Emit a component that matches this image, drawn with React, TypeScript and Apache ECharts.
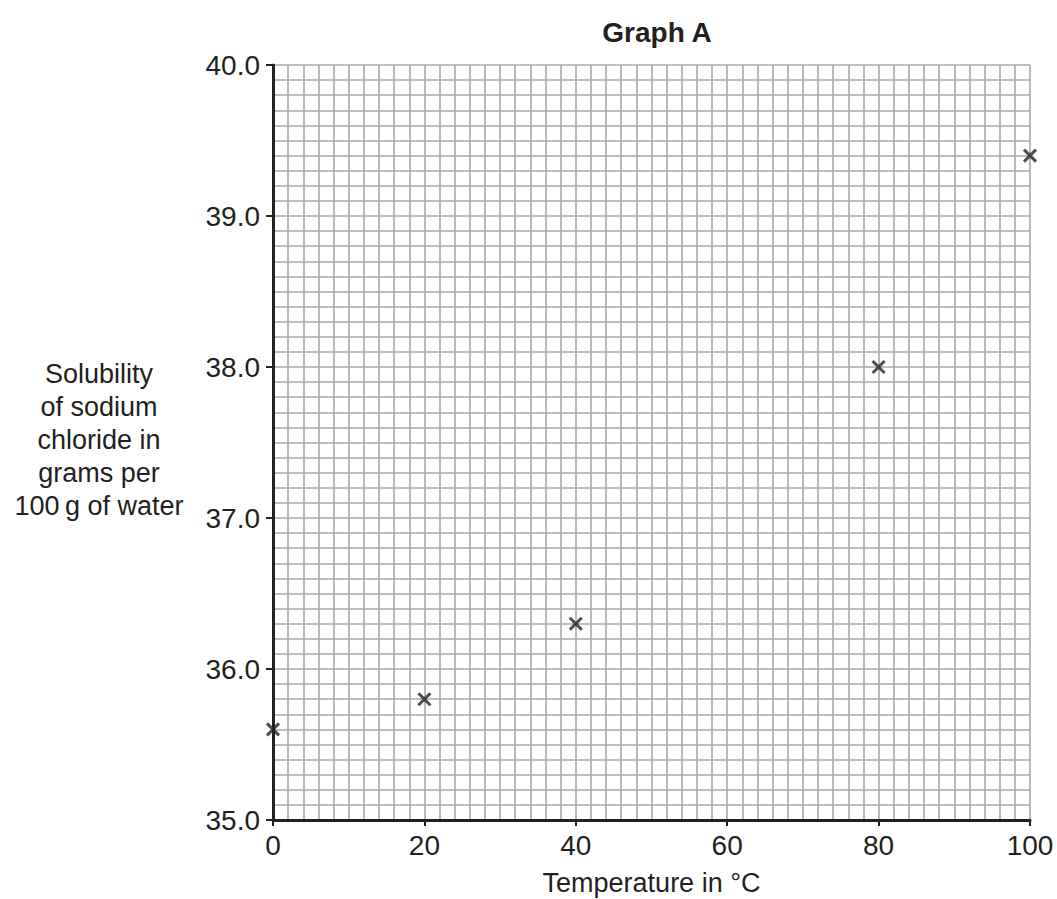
import React, { useEffect, useRef } from "react";
import * as echarts from "echarts";

const temperatures = [0, 20, 40, 80, 100];
const solubility = [35.6, 35.8, 36.3, 38.0, 39.4];
const yNameLines = ["Solubility", "of sodium", "chloride in", "grams per", "100\u2009g of water"];
const titleText = "Graph A";
const xName = "Temperature in °C";

const FONT = "'Liberation Sans', Arial, Helvetica, sans-serif";
const TXT = "#231f20";
const GRIDC = "#a9a9a9";

export default function App() {
  const ref = useRef<HTMLDivElement>(null);
  useEffect(() => {
    if (!ref.current) return;
    const chart = echarts.init(ref.current, null, { renderer: "svg" });
    const data = temperatures.map((t, i) => [t, solubility[i]]);
    chart.setOption({
      animation: false,
      backgroundColor: "#ffffff",
      textStyle: { fontFamily: FONT },
      title: {
        text: titleText,
        left: 652,
        textAlign: "center",
        top: 13,
        textStyle: { fontFamily: FONT, fontSize: 28, fontWeight: "bold", color: TXT },
      },
      grid: { left: 273, top: 65, right: 27, bottom: 79, outerBoundsMode: "none", containLabel: false },
      xAxis: {
        type: "value",
        min: 0,
        max: 100,
        interval: 20,
        name: xName,
        nameLocation: "middle",
        nameGap: 49,
        nameTextStyle: { fontFamily: FONT, fontSize: 27, color: TXT, lineHeight: 27 },
        axisLine: { show: true, onZero: false, lineStyle: { color: "#222", width: 3 } },
        axisTick: { show: true, length: 6, lineStyle: { color: "#222", width: 2 } },
        axisLabel: { fontFamily: FONT, fontSize: 28, color: TXT, margin: 11 },
        splitLine: { show: true, lineStyle: { color: GRIDC, width: 1.6 } },
        minorTick: { show: false, splitNumber: 10 },
        minorSplitLine: { show: true, lineStyle: { color: GRIDC, width: 1.6 } },
      },
      yAxis: {
        type: "value",
        min: 35,
        max: 40,
        interval: 1,
        axisLine: { show: true, onZero: false, lineStyle: { color: "#222", width: 3 } },
        axisTick: { show: true, length: 7, lineStyle: { color: "#222", width: 2 } },
        axisLabel: {
          fontFamily: FONT,
          fontSize: 28,
          color: TXT,
          margin: 13,
          formatter: (v: number) => v.toFixed(1),
        },
        splitLine: { show: true, lineStyle: { color: GRIDC, width: 1.6 } },
        minorTick: { show: false, splitNumber: 10 },
        minorSplitLine: { show: true, lineStyle: { color: GRIDC, width: 1.6 } },
      },
      graphic: [
        {
          type: "text",
          x: 99,
          y: 357,
          style: {
            text: yNameLines.join("\n"),
            font: `27px ${FONT}`,
            fill: TXT,
            align: "center",
            verticalAlign: "top",
            lineHeight: 33,
          },
        },
      ],
      series: [
        {
          type: "scatter",
          data,
          symbol: "path://M0,0L10,10M10,0L0,10",
          symbolSize: 12,
          itemStyle: { color: "rgba(0,0,0,0)", borderColor: "#222", borderWidth: 3 },
          z: 10,
        },
      ],
    });
    return () => chart.dispose();
  }, []);
  return (
    <div
      ref={ref}
      style={{ position: "fixed", left: 0, top: 0, width: 1057, height: 899 }}
    />
  );
}
